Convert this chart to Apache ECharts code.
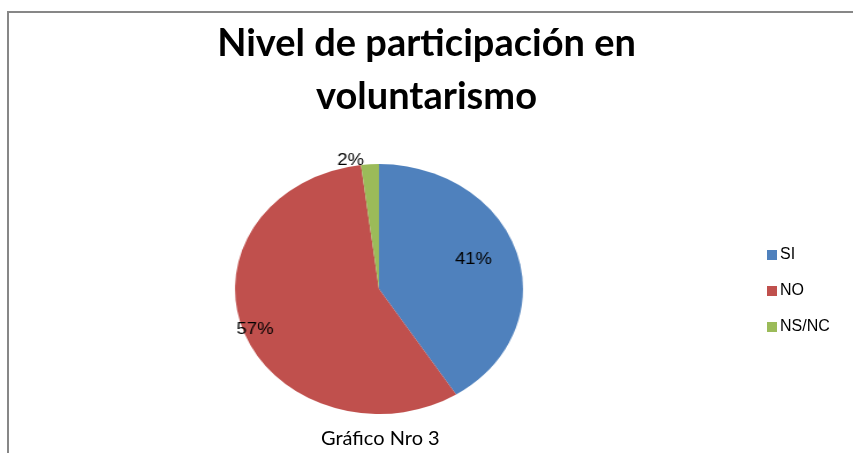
<!DOCTYPE html>
<html>
<head>
<meta charset="utf-8">
<script src="https://cdn.jsdelivr.net/npm/echarts@6/dist/echarts.min.js"></script>
<style>
  html, body { margin: 0; padding: 0; background: #fff; }
  #wrap { position: relative; width: 853px; height: 453px; overflow: hidden; }
  #frame {
    position: absolute; left: 7px; top: 11px; width: 900px; height: 500px;
    border-left: 2px solid #878787; border-top: 2px solid #878787;
  }
  #main { position: absolute; left: 0; top: 0; width: 853px; height: 453px; }
  #pie {
    position: absolute; left: 229px; top: 139px; width: 300px; height: 300px;
    transform: scaleX(1.152); transform-origin: 50% 50%;
  }
</style>
</head>
<body>
<div id="wrap">
  <div id="frame"></div>
  <div id="main"></div>
  <div id="pie"></div>
</div>
<script>
const categories = ['SI', 'NO', 'NS/NC'];
const values = [41, 57, 2];
const colors = ['#4F81BD', '#C0504D', '#9BBB59'];
// nudge labels toward where the original sits them
const labelShift = [[19, -11], [-46, 18], [0, 0]];

const pieData = categories.map((name, i) => ({
  name,
  value: values[i],
  itemStyle: { color: colors[i] },
  label: { position: i === 2 ? 'outside' : 'inside' }
}));

const mainChart = echarts.init(document.getElementById('main'));
mainChart.setOption({
  animation: false,
  title: [
    {
      text: 'Nivel de participación en\nvoluntarismo',
      left: 'center',
      top: 12,
      textStyle: {
        fontFamily: 'Lato, "Open Sans", sans-serif',
        fontSize: 38,
        fontWeight: 'bold',
        lineHeight: 53,
        color: '#000'
      }
    },
    {
      text: 'Gráfico Nro 3',
      left: 316,
      top: 424,
      textStyle: {
        fontFamily: 'Lato, "Open Sans", sans-serif',
        fontSize: 20,
        fontWeight: 'normal',
        color: '#000'
      }
    }
  ],
  legend: {
    orient: 'vertical',
    left: 762,
    top: 242,
    itemWidth: 10,
    itemHeight: 10,
    itemGap: 20,
    icon: 'rect',
    selectedMode: false,
    textStyle: { fontFamily: 'Liberation Sans', fontSize: 16, color: '#000', padding: [0, 0, 0, -2] },
    data: categories
  },
  series: [
    {
      type: 'pie',
      radius: [0, 0],
      silent: true,
      label: { show: false },
      labelLine: { show: false },
      data: pieData.map(d => ({ name: d.name, value: d.value, itemStyle: d.itemStyle }))
    }
  ]
});

const pieChart = echarts.init(document.getElementById('pie'));
pieChart.setOption({
  animation: false,
  series: [
    {
      type: 'pie',
      radius: 125,
      center: ['50%', '50%'],
      startAngle: 90,
      clockwise: true,
      itemStyle: { borderWidth: 0 },
      label: {
        show: true,
        formatter: '{d}%',
        fontFamily: 'Liberation Sans',
        fontSize: 16,
        color: '#000'
      },
      labelLine: { show: false, length: 4, length2: 0 },
      labelLayout: params => ({ dx: labelShift[params.dataIndex][0], dy: labelShift[params.dataIndex][1] }),
      emphasis: { disabled: true },
      data: pieData
    }
  ]
});
</script>
</body>
</html>
